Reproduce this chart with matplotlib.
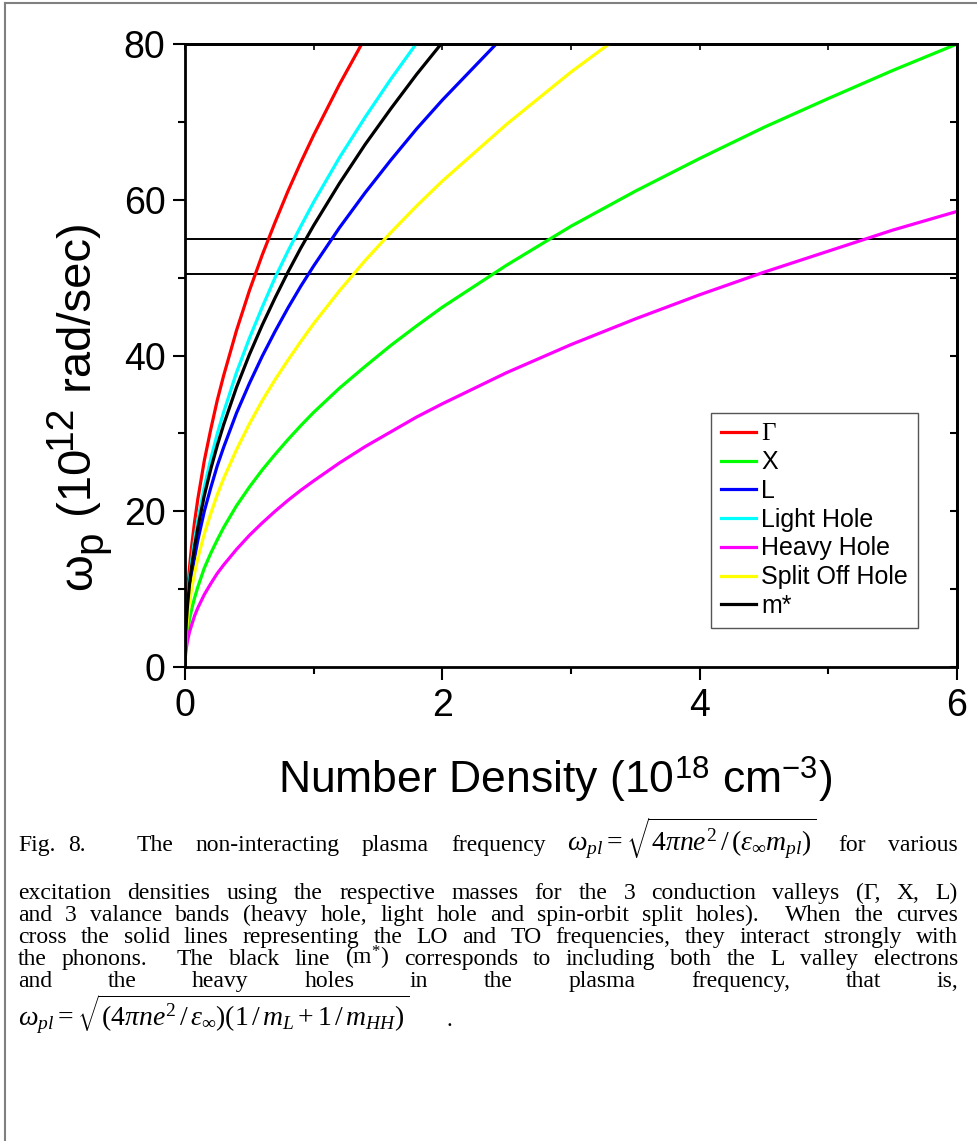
import matplotlib
matplotlib.use("Agg")
import matplotlib.pyplot as plt
from matplotlib.lines import Line2D
from matplotlib.ticker import MultipleLocator

plt.rcParams["font.family"] = ["Liberation Sans", "DejaVu Sans"]
plt.rcParams["mathtext.fontset"] = "custom"
plt.rcParams["mathtext.rm"] = "Liberation Serif"
plt.rcParams["mathtext.it"] = "Liberation Serif:italic"
plt.rcParams["mathtext.sf"] = "Liberation Sans"

# number density, 10^18 cm^-3
density = [0, 0.002, 0.005, 0.01, 0.02, 0.035, 0.05, 0.075, 0.1, 0.15, 0.2, 0.25,
           0.3, 0.4, 0.5, 0.6, 0.7, 0.8, 0.9, 1.0, 1.2, 1.4, 1.6, 1.8, 2.0, 2.5,
           3.0, 3.5, 4.0, 4.5, 5.0, 5.5, 6.0]

# plasma frequency, 10^12 rad/sec
gamma_valley = [0, 3.1, 4.8, 6.8, 9.7, 12.8, 15.3, 18.7, 21.6, 26.5, 30.5, 34.2,
                37.4, 43.2, 48.3, 52.9, 57.1, 61.1, 64.8, 68.3, 74.8, 80.8]
x_valley = [0, 1.5, 2.3, 3.3, 4.6, 6.1, 7.3, 8.9, 10.3, 12.7, 14.6, 16.3,
            17.9, 20.7, 23.1, 25.3, 27.3, 29.2, 31.0, 32.7, 35.8, 38.6, 41.3, 43.8,
            46.2, 51.6, 56.6, 61.1, 65.3, 69.3, 73.0, 76.6, 80.0]
l_valley = [0, 2.3, 3.6, 5.2, 7.3, 9.6, 11.5, 14.1, 16.3, 20.0, 23.0, 25.8,
            28.2, 32.6, 36.4, 39.9, 43.1, 46.1, 48.9, 51.5, 56.4, 60.9, 65.1, 69.1,
            72.8, 81.4]
light_hole = [0, 2.7, 4.2, 6.0, 8.4, 11.2, 13.4, 16.4, 18.9, 23.1, 26.7, 29.9,
              32.7, 37.8, 42.2, 46.2, 50.0, 53.4, 56.6, 59.7, 65.4, 70.6, 75.5, 80.1]
heavy_hole = [0, 1.1, 1.7, 2.4, 3.4, 4.5, 5.3, 6.6, 7.6, 9.3, 10.7, 12.0,
              13.1, 15.1, 16.9, 18.5, 20.0, 21.4, 22.7, 23.9, 26.2, 28.3, 30.2, 32.1,
              33.8, 37.8, 41.4, 44.7, 47.8, 50.7, 53.4, 56.1, 58.5]
split_off = [0, 2.0, 3.1, 4.4, 6.2, 8.3, 9.9, 12.1, 14.0, 17.1, 19.7, 22.1,
             24.2, 27.9, 31.2, 34.2, 36.9, 39.4, 41.8, 44.1, 48.3, 52.2, 55.8, 59.2,
             62.4, 69.7, 76.4, 82.5]
m_star = [0, 2.5, 4.0, 5.7, 8.0, 10.6, 12.7, 15.5, 17.9, 22.0, 25.4, 28.4,
          31.1, 35.9, 40.1, 43.9, 47.4, 50.7, 53.8, 56.7, 62.1, 67.1, 71.7, 76.1,
          80.2]

lo_freq = 55.0
to_freq = 50.5

series = [
    (gamma_valley, "#ff0000", "Γ"),
    (x_valley, "#00ff00", "X"),
    (l_valley, "#0000ff", "L"),
    (light_hole, "#00ffff", "Light Hole"),
    (heavy_hole, "#ff00ff", "Heavy Hole"),
    (split_off, "#ffff00", "Split Off Hole"),
    (m_star, "#000000", "m*"),
]

W, H = 977, 1141
fig = plt.figure(figsize=(W / 100, H / 100), dpi=100)
ax = fig.add_axes([185 / W, 1 - 667 / H, 772 / W, 623 / H])
renderer = fig.canvas.get_renderer()

ax.axhline(lo_freq, color="black", lw=1.4, zorder=1)
ax.axhline(to_freq, color="black", lw=1.4, zorder=1)
for vals, col, lab in series:
    ax.plot(density[:len(vals)], vals, color=col, lw=2.3, label=lab, zorder=2,
            solid_joinstyle="round")

ax.set_xlim(0, 6)
ax.set_ylim(0, 80)
ax.xaxis.set_major_locator(MultipleLocator(2))
ax.xaxis.set_minor_locator(MultipleLocator(1))
ax.yaxis.set_major_locator(MultipleLocator(20))
ax.yaxis.set_minor_locator(MultipleLocator(10))
ax.tick_params(which="both", direction="out", width=1.5, labelsize=27)
ax.tick_params(which="major", length=9)
ax.tick_params(which="minor", length=5)
ax.tick_params(axis="x", pad=6)
ax.tick_params(axis="y", pad=5)
for s in ax.spines.values():
    s.set_linewidth(2)

top = ax.secondary_xaxis("top")
top.xaxis.set_major_locator(MultipleLocator(2))
top.xaxis.set_minor_locator(MultipleLocator(1))
top.tick_params(which="both", direction="in", length=4, width=1.2, labeltop=False)
top.spines["top"].set_linewidth(2)
right = ax.secondary_yaxis("right")
right.yaxis.set_major_locator(MultipleLocator(20))
right.yaxis.set_minor_locator(MultipleLocator(10))
right.tick_params(which="both", direction="in", length=5, width=1.5, labelright=False)
right.spines["right"].set_linewidth(2)

leg = ax.legend(loc="upper right", bbox_to_anchor=((918 - 185) / 772, (667 - 413) / 623),
                fontsize=18, fancybox=False, edgecolor="#555555", framealpha=1,
                handlelength=1.4, handletextpad=0.2, labelspacing=0.19,
                borderpad=0.4, borderaxespad=0)
leg.get_frame().set_linewidth(1.0)
leg.get_texts()[0].set_family(["Liberation Serif"])

ax.set_xlabel(r"Number Density (10$^{\mathsf{18}}$ cm$^{\mathsf{-3}}$)", fontsize=32)
ax.xaxis.set_label_coords(0.48, -0.14)

# y label built from pieces so the sub/superscripts keep their large size
ylab_parts = [("ω", 34, 0), ("p", 29, 10), (" (10", 34, 0), ("12", 28, -20),
              (" rad/sec)", 34, 0)]
ylab_base = 91
ylab_center = H - 406
objs = []
for s, fs, shift in ylab_parts:
    objs.append(fig.text((ylab_base + shift) / W, 0, s, fontsize=fs, rotation=90,
                         rotation_mode="anchor", ha="left", va="baseline"))
lengths = [t.get_window_extent(renderer).height for t in objs]
y = ylab_center - sum(lengths) / 2
for t, ln in zip(objs, lengths):
    t.set_y(y / H)
    y += ln

# caption, set as justified lines
cap_fs = 17
eq_fs = 20


def caption_line(words, y_px, justify=True, weights=None, x0=18, x1=958):
    objs = []
    for w in words:
        fs = eq_fs if w.startswith("$") else cap_fs
        objs.append(fig.text(0, 1 - y_px / H, w, fontsize=fs, va="baseline",
                             family=["Liberation Serif"]))
    widths = [t.get_window_extent(renderer).width for t in objs]
    if weights is None:
        weights = [1] * (len(words) - 1)
    if justify:
        unit = (x1 - x0 - sum(widths)) / sum(weights)
    else:
        unit = 5
    x = x0
    for i, (t, w) in enumerate(zip(objs, widths)):
        t.set_x(x / W)
        if i < len(weights):
            x += w + unit * weights[i]


caption_line(["Fig.", "8.", "The", "non-interacting", "plasma", "frequency",
              r"$\omega_{pl}=\sqrt{4\pi ne^{2}\,/\,(\varepsilon_{\infty}m_{pl})}$",
              "for", "various"], 851, weights=[0.6, 2.3, 1, 1, 1, 1, 1, 1])
caption_line("excitation densities using the respective masses for the 3 conduction "
             "valleys (Γ, X, L)".split(), 899)
w3 = "and 3 valance bands (heavy hole, light hole and spin-orbit split holes). When the curves".split()
caption_line(w3, 921, weights=[2 if w.endswith(").") else 1 for w in w3[:-1]])
caption_line("cross the solid lines representing the LO and TO frequencies, they "
             "interact strongly with".split(), 943)
w5 = ["the", "phonons.", "The", "black", "line", r"(m$^{*}$)", "corresponds", "to",
      "including", "both", "the", "L", "valley", "electrons"]
caption_line(w5, 965, weights=[2 if w == "phonons." else 1 for w in w5[:-1]])
caption_line("and the heavy holes in the plasma frequency, that is,".split(), 987)
caption_line([r"$\omega_{pl}=\sqrt{(4\pi ne^{2}\,/\,\varepsilon_{\infty})(1\,/\,m_{L}+1\,/\,m_{HH})}$",
              "."], 1026, justify=False, weights=[7.5])

# page frame
fig.add_artist(Line2D([4.5 / W, 4.5 / W], [0, 1 - 2.5 / H], transform=fig.transFigure,
                      color="#808080", lw=1.5))
fig.add_artist(Line2D([4.5 / W, 1], [1 - 2.5 / H, 1 - 2.5 / H], transform=fig.transFigure,
                      color="#808080", lw=1.5))

fig.savefig("out.png", dpi=100)
